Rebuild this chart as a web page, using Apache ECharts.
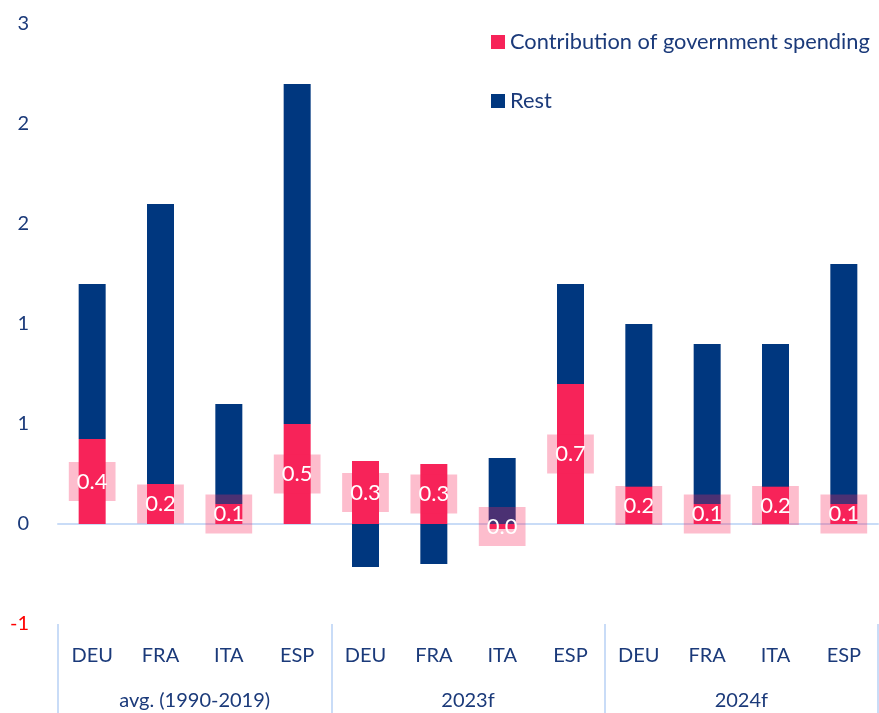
<!DOCTYPE html>
<html>
<head>
<meta charset="utf-8">
<script src="https://cdn.jsdelivr.net/npm/echarts@6/dist/echarts.min.js"></script>
<style>
  html, body { margin: 0; padding: 0; background: #fff; }
  #chart { width: 879px; height: 713px; }
</style>
</head>
<body>
<div id="chart"></div>
<script>
const countries = ['DEU', 'FRA', 'ITA', 'ESP', 'DEU', 'FRA', 'ITA', 'ESP', 'DEU', 'FRA', 'ITA', 'ESP']
const periods = ['avg. (1990-2019)', '2023f', '2024f']
const govSpending = [0.425, 0.2, 0.1, 0.5, 0.315, 0.3, -0.025, 0.7, 0.185, 0.1, 0.185, 0.1]
const rest = [0.775, 1.4, 0.5, 1.7, -0.215, -0.2, 0.33, 0.5, 0.815, 0.8, 0.715, 1.2]

const RED = '#F72359'
const BLUE = '#00377F'
const TEXT = '#1B3A7A'
const LINE = '#C9DCF7'
const FONT = 'Lato'

const chart = echarts.init(document.getElementById('chart'))

// excel style rounding, 2.5 -> 3, -0.5 -> -1
const roundLabel = (v) => {
    const r = Math.sign(v) * Math.round(Math.abs(v))
    return String(r === 0 ? 0 : r)
}

let option = {
    animation: false,
    textStyle: { fontFamily: FONT },
    grid: { left: 58, right: 1, top: 24, bottom: 89 },
    legend: {
        orient: 'vertical',
        left: 491,
        top: 31,
        padding: 0,
        itemWidth: 14,
        itemHeight: 14,
        itemGap: 37,
        icon: 'rect',
        textStyle: { color: TEXT, fontSize: 21.8, fontFamily: FONT },
        data: ['Contribution of government spending', 'Rest']
    },
    xAxis: [
        {
            type: 'category',
            data: countries,
            axisLine: { onZero: true, lineStyle: { color: LINE, width: 2 } },
            axisTick: { show: false },
            axisLabel: { show: false }
        },
        {
            type: 'category',
            position: 'bottom',
            data: countries,
            axisLine: { show: false, onZero: false },
            axisTick: { show: false },
            axisLabel: { color: TEXT, fontSize: 20, margin: 22, fontFamily: FONT }
        },
        {
            type: 'category',
            position: 'bottom',
            data: periods,
            axisLine: { show: false, onZero: false },
            axisTick: { show: true, length: 89, interval: 0, lineStyle: { color: LINE, width: 2 } },
            axisLabel: { color: TEXT, fontSize: 20, margin: 67, fontFamily: FONT }
        }
    ],
    yAxis: {
        type: 'value',
        min: -0.5,
        max: 2.5,
        interval: 0.5,
        splitLine: { show: false },
        axisLine: { show: false },
        axisTick: { show: false },
        axisLabel: {
            fontSize: 20,
            margin: 29,
            fontFamily: FONT,
            color: (v) => (v < 0 ? '#FF0000' : TEXT),
            formatter: roundLabel
        }
    },
    series: [
        {
            name: 'Contribution of government spending',
            type: 'bar',
            stack: 'total',
            barWidth: 27,
            z: 3,
            itemStyle: { color: RED },
            label: {
                show: true,
                position: 'inside',
                color: '#fff',
                fontSize: 22,
                fontFamily: FONT,
                backgroundColor: 'rgba(247, 35, 89, 0.3)',
                padding: [9, 8, 8, 8],
                formatter: (p) => {
                    let s = p.value.toFixed(1)
                    return s === '-0.0' ? '0.0' : s
                }
            },
            data: govSpending
        },
        {
            name: 'Rest',
            type: 'bar',
            stack: 'total',
            barWidth: 27,
            z: 2,
            itemStyle: { color: BLUE },
            data: rest
        }
    ]
}

chart.setOption(option)
</script>
</body>
</html>
